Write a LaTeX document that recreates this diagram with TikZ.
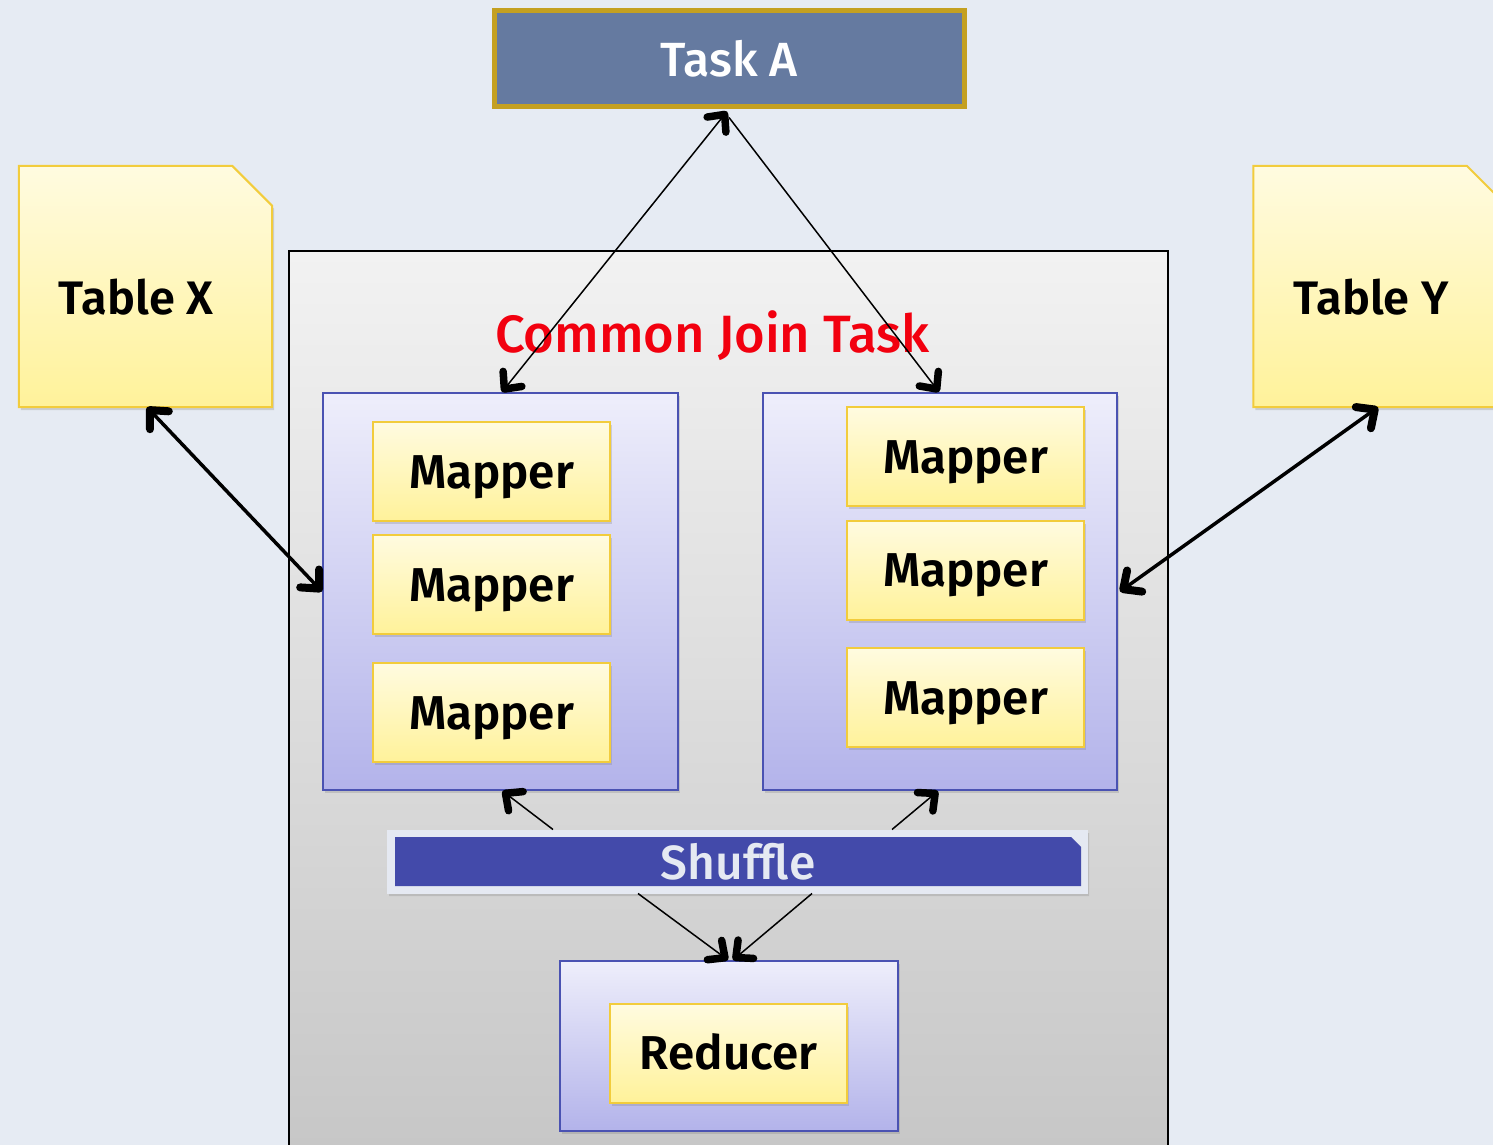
\documentclass[tikz,border=0pt]{standalone}
\usepackage{fontspec}
\setmainfont{Fira Sans}
\newfontfamily\medfont{Fira Sans Medium}
\newfontfamily\semifont{Fira Sans SemiBold}
\usetikzlibrary{arrows.meta,shapes.misc,shadows}

\definecolor{bg}{HTML}{E6EBF3}
\definecolor{taskfill}{HTML}{657AA0}
\definecolor{taskedge}{HTML}{C4A020}
\definecolor{ylwtop}{HTML}{FFFBE0}
\definecolor{ylwbot}{HTML}{FFF29A}
\definecolor{ylwedge}{HTML}{F2CC3C}
\definecolor{grptop}{HTML}{EEEEFB}
\definecolor{grpbot}{HTML}{B3B3EA}
\definecolor{grpedge}{HTML}{4A52B2}
\definecolor{boxtop}{HTML}{F2F2F2}
\definecolor{boxbot}{HTML}{C6C6C6}
\definecolor{shufblue}{HTML}{434AAA}
\definecolor{shufpale}{HTML}{E5E9F2}
\definecolor{joinred}{HTML}{F2000F}

\tikzset{
  softshadow/.style={drop shadow={opacity=0.28, shadow xshift=2pt, shadow yshift=-3pt}},
  yellowbox/.style={rectangle, draw=ylwedge, line width=2pt, top color=ylwtop,
    bottom color=ylwbot, inner sep=0pt, softshadow},
  mapbox/.style={yellowbox, minimum width=237pt, minimum height=99pt,
    text height=40pt, text depth=7pt, font=\fontsize{47.5}{50}\semifont},
  tableframe/.style={rectangle, minimum width=253pt, minimum height=241pt, inner sep=0pt},
  tableshape/.style={draw=ylwedge, line width=2pt, top color=ylwtop, bottom color=ylwbot,
    softshadow},
  tabletext/.style={font=\fontsize{47}{50}\semifont},
  groupbox/.style={rectangle, draw=grpedge, line width=2pt, top color=grptop,
    bottom color=grpbot, inner sep=0pt, softshadow},
  thinlink/.style={line width=1.5pt,
    arrows={-Straight Barb[length=13pt,width=24pt,line width=7.5pt,round]}},
  thinboth/.style={line width=1.5pt,
    arrows={Straight Barb[length=13pt,width=24pt,line width=7.5pt,round]-Straight Barb[length=13pt,width=24pt,line width=7.5pt,round]}},
  thickboth/.style={line width=3.5pt,
    arrows={Straight Barb[length=14pt,width=26pt,line width=8pt,round]-Straight Barb[length=14pt,width=26pt,line width=8pt,round]}},
}

\begin{document}
\begin{tikzpicture}[x=1pt,y=-1pt]
  % canvas
  \fill[bg] (0,0) rectangle (1493,1145);
  \useasboundingbox (0,0) rectangle (1493,1145);
  \clip (0,0) rectangle (1493,1145);

  % outer job box
  \node[rectangle, draw=black, line width=1.5pt, top color=boxtop, bottom color=boxbot,
        minimum width=879pt, minimum height=918pt, inner sep=0pt]
        (join) at (728.5,710) {};
  \node[anchor=base, text=joinred, font=\fontsize{52.5}{56}\medfont]
        (jointitle) at (712.5,352) {Common Join Task};

  % top task
  \node[rectangle, draw=taskedge, line width=5pt, fill=taskfill, text=white,
        minimum width=470pt, minimum height=96pt, inner sep=0pt,
        font=\fontsize{48}{52}\medfont]
        (taskA) at (729,59) {Task A};

  % input tables (folded top-right corner)
  \node[tableframe] (tx) at (145.5,286.5) {};
  \path[tableshape] (tx.south west) -- (tx.north west) -- ([xshift=-40pt]tx.north east)
        -- ([yshift=-40pt]tx.north east) -- (tx.south east) -- cycle;
  \node[tabletext] (txlabel) at (136,297) {Table X};
  \node[tableframe] (ty) at (1380,286.5) {};
  \path[tableshape] (ty.south west) -- (ty.north west) -- ([xshift=-40pt]ty.north east)
        -- ([yshift=-40pt]ty.north east) -- (ty.south east) -- cycle;
  \node[tabletext] (tylabel) at (1371,297) {Table Y};

  % mapper groups
  \node[groupbox, minimum width=355pt, minimum height=397pt] (lgrp) at (500.5,591.5) {};
  \node[groupbox, minimum width=354pt, minimum height=397pt] (rgrp) at (940,591.5) {};

  \node[mapbox] (lm1) at (491.5,471.5) {Mapper};
  \node[mapbox] (lm2) at (491.5,584.5) {Mapper};
  \node[mapbox] (lm3) at (491.5,712.5) {Mapper};
  \node[mapbox] (rm1) at (965.5,456.5) {Mapper};
  \node[mapbox] (rm2) at (965.5,570) {Mapper};
  \node[mapbox] (rm3) at (965.5,697.5) {Mapper};

  % reducer group
  \node[groupbox, minimum width=338pt, minimum height=170pt] (rgroup) at (729,1046) {};
  \node[mapbox] (red) at (728.5,1053) {Reducer};

  % shuffle bar
  \node[chamfered rectangle, chamfered rectangle corners=north east,
        chamfered rectangle xsep=8pt, chamfered rectangle ysep=8pt,
        fill=shufpale, draw=shufpale, line width=1pt, inner sep=0pt,
        minimum width=700pt, minimum height=63pt, softshadow]
        (shuf) at (737,861.5) {};
  \node[chamfered rectangle, chamfered rectangle corners=north east,
        chamfered rectangle xsep=5pt, chamfered rectangle ysep=5pt,
        fill=shufblue, inner sep=0pt, minimum width=686pt, minimum height=49pt,
        text=shufpale, font=\fontsize{48}{50}\medfont]
        (shufbar) at (738,861.5) {Shuffle};

  % shuffle links
  \draw[thinlink] ([xshift=-184pt]shuf.north) -- ([xshift=2pt]lgrp.south);
  \draw[thinlink] ([xshift=155pt]shuf.north) -- ([xshift=-2pt]rgrp.south);
  \draw[thinlink] ([xshift=-99pt]shuf.south) -- ([xshift=-1pt]rgroup.north);
  \draw[thinlink] ([xshift=75pt]shuf.south) -- ([xshift=4pt]rgroup.north);

  % task links
  \draw[thinboth] ([xshift=-2pt,yshift=-2pt]taskA.south) -- ([xshift=1.5pt]lgrp.north);
  \draw[thinlink] ([yshift=-8pt]taskA.south) -- ([xshift=-1pt]rgrp.north);

  % table links
  \draw[thickboth] ([xshift=1.5pt]tx.south) -- (lgrp.west);
  \draw[thickboth] ([xshift=-2pt]ty.south) -- ([xshift=2pt]rgrp.east);
\end{tikzpicture}
\end{document}
